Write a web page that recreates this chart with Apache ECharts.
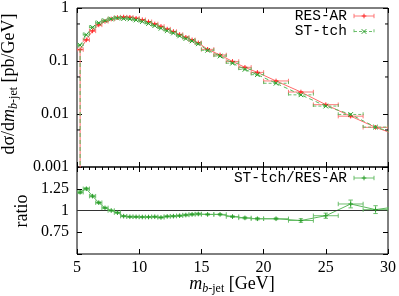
<!DOCTYPE html>
<html><head><meta charset="utf-8">
<script src="https://cdn.jsdelivr.net/npm/echarts@6/dist/echarts.min.js"></script>
<style>html,body{margin:0;padding:0;background:#fff}#c{width:399px;height:296px}</style>
</head><body><div id="c"></div>
<script>
// bin edges (GeV); last bin lies beyond the plotted range
const edges = [5,5.5,6,6.5,7,7.5,8,8.5,9,9.5,10,10.5,11,11.5,12,12.5,13,13.5,14,14.5,15,16,17,18,19,20,22,24,26,28,30,32];
const resAR = [0.164,0.25,0.37,0.48,0.56,0.62,0.66,0.675,0.668,0.64,0.60,0.55,0.50,0.45,0.40,0.36,0.316,0.28,0.25,0.22,0.166,0.13,0.098,0.076,0.061,0.042,0.026,0.015,0.0091,0.0056,0.0038];
const stTch = [0.198,0.312,0.431,0.523,0.577,0.62,0.644,0.631,0.62,0.593,0.555,0.509,0.464,0.414,0.373,0.337,0.297,0.265,0.239,0.211,0.159,0.124,0.091,0.0695,0.0552,0.038,0.023,0.0141,0.0098,0.00566,0.0040];
const ratio = [1.21,1.25,1.165,1.09,1.03,1.0,0.975,0.935,0.928,0.927,0.925,0.925,0.928,0.92,0.932,0.935,0.94,0.948,0.955,0.96,0.955,0.955,0.93,0.915,0.905,0.905,0.885,0.94,1.075,1.01,1.05];
const resErr = [0.015,0.012,0.01,0.008,0.008,0.007,0.007,0.007,0.007,0.007,0.007,0.007,0.007,0.008,0.008,0.008,0.009,0.009,0.01,0.01,0.008,0.009,0.01,0.011,0.012,0.01,0.014,0.02,0.03,0.03,0.03];
const stErr = [0.015,0.012,0.01,0.008,0.008,0.007,0.007,0.007,0.007,0.007,0.007,0.007,0.007,0.008,0.008,0.008,0.009,0.009,0.01,0.01,0.008,0.009,0.01,0.011,0.012,0.01,0.014,0.02,0.03,0.03,0.03];
const ratioErr = [0.015,0.012,0.01,0.01,0.008,0.008,0.008,0.007,0.007,0.007,0.007,0.007,0.007,0.008,0.008,0.008,0.009,0.009,0.01,0.01,0.008,0.009,0.01,0.011,0.012,0.01,0.02,0.03,0.045,0.045,0.05];
const xTickLabels = ['5','10','15','20','25','30'];
const yTickLabels = ['0.001','0.01','0.1','1'];
const yMinorTicks = [0.5,0.05,0.005];
const ratioTickLabels = ['0.75','1','1.25'];
const leftDrop = 1e-6; // line falls out of the log range below the first bin

const RED = '#ff2a2a', RED_L = '#ff6a6a', GREEN = '#2a9e2a', GREEN_L = '#5cb85c';
const SERIF = 'Liberation Serif', MONO = 'Liberation Mono';

const centers = edges.slice(0,-1).map((e,i)=>(e+edges[i+1])/2);
const nIn = centers.filter(c=>c<30).length;

function lineData(vals){
  const d=[[centers[0], leftDrop]];
  vals.forEach((v,i)=>d.push([centers[i], v]));
  return d;
}
function errData(vals, errs){
  const d=[];
  for(let i=0;i<nIn;i++){
    d.push([centers[i], vals[i], edges[i], edges[i+1], vals[i]*(1-errs[i]), vals[i]*(1+errs[i])]);
  }
  return d;
}
function errDataAbs(vals, errs){
  const d=[];
  for(let i=0;i<nIn;i++){
    d.push([centers[i], vals[i], edges[i], edges[i+1], vals[i]-errs[i], vals[i]+errs[i]]);
  }
  return d;
}
function seg(x1,y1,x2,y2){return {x1,y1,x2,y2};}
function errRender(color, barColor, marker, dash){
  return function(params, api){
    const xc=api.value(0), y=api.value(1), xl=api.value(2), xh=api.value(3), yl=api.value(4), yh=api.value(5);
    const c=api.coord([xc,y]), l=api.coord([xl,y]), h=api.coord([xh,y]);
    const lo=api.coord([xc,yl]), hi=api.coord([xc,yh]);
    const cap=2.2, m=2.3;
    const bars=[
      seg(l[0],c[1],h[0],c[1]),
      seg(l[0],c[1]-cap,l[0],c[1]+cap),
      seg(h[0],c[1]-cap,h[0],c[1]+cap),
      seg(c[0],lo[1],c[0],hi[1]),
      seg(c[0]-cap,lo[1],c[0]+cap,lo[1]),
      seg(c[0]-cap,hi[1],c[0]+cap,hi[1])
    ];
    const mk = marker==='x'
      ? [seg(c[0]-m,c[1]-m,c[0]+m,c[1]+m), seg(c[0]-m,c[1]+m,c[0]+m,c[1]-m)]
      : [seg(c[0]-m,c[1],c[0]+m,c[1]), seg(c[0],c[1]-m,c[0],c[1]+m)];
    const ch=[];
    bars.forEach(s=>ch.push({type:'line', shape:s, style:{stroke:barColor, lineWidth:0.9, lineDash: dash||null}}));
    mk.forEach(s=>ch.push({type:'line', shape:s, style:{stroke:color, lineWidth:1}}));
    return {type:'group', children:ch};
  };
}
function minorRender(params, api){
  const v=api.value(0);
  const a=api.coord([5,v]), b=api.coord([30,v]);
  return {type:'group', children:[
    {type:'line', shape:seg(a[0],a[1],a[0]+3,a[1]), style:{stroke:'#000', lineWidth:1}},
    {type:'line', shape:seg(b[0],b[1],b[0]-3,b[1]), style:{stroke:'#000', lineWidth:1}}
  ]};
}

const labelFor = (arr)=> (v)=>{
  for(const s of arr){ if(Math.abs(parseFloat(s)-v) < 1e-9 + Math.abs(v)*1e-6) return s; }
  return '';
};

const axisLabelStyle = {fontFamily:SERIF, fontSize:16, color:'#000'};
const baseX = {type:'value', min:5, max:30, interval:5, axisLine:{show:false}, splitLine:{show:false},
  axisTick:{show:true, inside:true, length:5, lineStyle:{color:'#000'}}};

const chart = echarts.init(document.getElementById('c'), null, {renderer:'canvas'});
const richTitle = {
  r:{fontFamily:SERIF, fontSize:18, lineHeight:22, color:'#000'},
  i:{fontFamily:SERIF, fontStyle:'italic', fontSize:18, lineHeight:22, color:'#000'},
  si:{fontFamily:SERIF, fontStyle:'italic', fontSize:12, lineHeight:12, padding:[10,0,0,0], color:'#000'},
  sr:{fontFamily:SERIF, fontSize:12, lineHeight:12, padding:[10,0,0,0], color:'#000'}
};
function legendSample(x1, x2, y, color, barColor, marker, dash){
  const xc=(x1+x2)/2, cap=2.2, m=2.3;
  const segs=[seg(x1,y,x2,y), seg(x1,y-cap,x1,y+cap), seg(x2,y-cap,x2,y+cap)];
  const mk = marker==='x'
    ? [seg(xc-m,y-m,xc+m,y+m), seg(xc-m,y+m,xc+m,y-m)]
    : [seg(xc-m,y,xc+m,y), seg(xc,y-m,xc,y+m)];
  return segs.map(s=>({type:'line', shape:s, style:{stroke:barColor, lineWidth:0.9, lineDash:dash||null}}))
    .concat(mk.map(s=>({type:'line', shape:s, style:{stroke:color, lineWidth:1}})));
}

const option = {
  animation:false,
  backgroundColor:'#fff',
  grid:[
    {left:77, top:7, width:311, height:160, show:true, borderColor:'#000', borderWidth:1, backgroundColor:'transparent'},
    {left:77, top:167, width:311, height:87, show:true, borderColor:'#000', borderWidth:1, backgroundColor:'transparent'}
  ],
  xAxis:[
    Object.assign({}, baseX, {gridIndex:0, position:'bottom', axisLabel:{show:false}}),
    Object.assign({}, baseX, {gridIndex:0, position:'top', axisLabel:{show:false}}),
    Object.assign({}, baseX, {gridIndex:1, position:'bottom',
      axisLabel:Object.assign({show:true, margin:6, formatter:(v)=>xTickLabels.find(s=>parseFloat(s)===v)||''}, axisLabelStyle)}),
    Object.assign({}, baseX, {gridIndex:1, position:'top', axisLabel:{show:false},
      minorTick:{show:true, splitNumber:10, length:3, lineStyle:{color:'#000'}}})
  ],
  yAxis:[
    {type:'log', logBase:10, gridIndex:0, min:0.001, max:1, position:'left', axisLine:{show:false}, splitLine:{show:false},
      axisTick:{show:true, inside:true, length:5, lineStyle:{color:'#000'}},
      axisLabel:Object.assign({show:true, margin:8, formatter:labelFor(yTickLabels)}, axisLabelStyle)},
    {type:'log', logBase:10, gridIndex:0, min:0.001, max:1, position:'right', axisLine:{show:false}, splitLine:{show:false},
      axisTick:{show:true, inside:true, length:5, lineStyle:{color:'#000'}}, axisLabel:{show:false}},
    {type:'value', gridIndex:1, min:0.5, max:1.5, interval:0.25, position:'left', axisLine:{show:false}, splitLine:{show:false},
      axisTick:{show:true, inside:true, length:5, lineStyle:{color:'#000'}},
      axisLabel:Object.assign({show:true, margin:8, formatter:labelFor(ratioTickLabels)}, axisLabelStyle)},
    {type:'value', gridIndex:1, min:0.5, max:1.5, interval:0.25, position:'right', axisLine:{show:false}, splitLine:{show:false},
      axisTick:{show:true, inside:true, length:5, lineStyle:{color:'#000'}}, axisLabel:{show:false}}
  ],
  series:[
    {type:'line', xAxisIndex:0, yAxisIndex:0, data:lineData(resAR), showSymbol:false, clip:true,
      lineStyle:{color:RED_L, width:1}, itemStyle:{color:RED}, z:2},
    {type:'custom', xAxisIndex:0, yAxisIndex:0, data:errData(resAR,resErr), renderItem:errRender(RED,RED_L,'+'), z:3, clip:true},
    {type:'line', xAxisIndex:0, yAxisIndex:0, data:lineData(stTch), showSymbol:false, clip:true,
      lineStyle:{color:GREEN_L, width:1, type:[4,3]}, itemStyle:{color:GREEN}, z:4},
    {type:'custom', xAxisIndex:0, yAxisIndex:0, data:errData(stTch,stErr), renderItem:errRender(GREEN,GREEN_L,'x',[3,2]), z:5, clip:true},
    {type:'custom', xAxisIndex:0, yAxisIndex:0, data:yMinorTicks.map(v=>[v]), renderItem:minorRender, z:6,
      encode:{y:0}},
    {type:'line', xAxisIndex:2, yAxisIndex:2, data:ratio.map((v,i)=>[centers[i],v]), showSymbol:false, clip:true,
      lineStyle:{color:GREEN_L, width:1}, itemStyle:{color:GREEN}, z:4,
      markLine:{silent:true, symbol:'none', label:{show:false}, lineStyle:{color:'#333', width:1, type:'solid'},
        data:[{yAxis:1}]}},
    {type:'custom', xAxisIndex:2, yAxisIndex:2, data:errDataAbs(ratio,ratioErr), renderItem:errRender(GREEN,GREEN_L,'+'), z:5, clip:true}
  ],
  graphic:[
    {type:'text', x:9, y:84, rotation:Math.PI/2, style:{text:'{r|dσ/d}{i|m}{si|b}{sr|-jet}{r| [pb/GeV]}', rich:richTitle, align:'center', verticalAlign:'middle'}},
    {type:'text', x:22, y:211, rotation:Math.PI/2, style:{text:'{r|ratio}', rich:richTitle, align:'center', verticalAlign:'middle'}},
    {type:'text', x:232, y:284, style:{text:'{i|m}{si|b}{sr|-jet}{r| [GeV]}', rich:richTitle, align:'center', verticalAlign:'middle'}},
    {type:'text', x:347, y:16, style:{text:'RES-AR', fontFamily:MONO, fontSize:14.5, fill:'#000', align:'right', verticalAlign:'middle'}},
    {type:'text', x:347, y:31, style:{text:'ST-tch', fontFamily:MONO, fontSize:14.5, fill:'#000', align:'right', verticalAlign:'middle'}},
    {type:'text', x:347, y:178, style:{text:'ST-tch/RES-AR', fontFamily:MONO, fontSize:14.5, fill:'#000', align:'right', verticalAlign:'middle'}},
    {type:'group', children: legendSample(354,374,16,RED,RED_L,'+')
      .concat(legendSample(354,374,31.5,GREEN,GREEN_L,'x',[3,2]))
      .concat(legendSample(354,374,178,GREEN,GREEN_L,'+'))}
  ]
};
chart.setOption(option);
</script>
</body></html>
